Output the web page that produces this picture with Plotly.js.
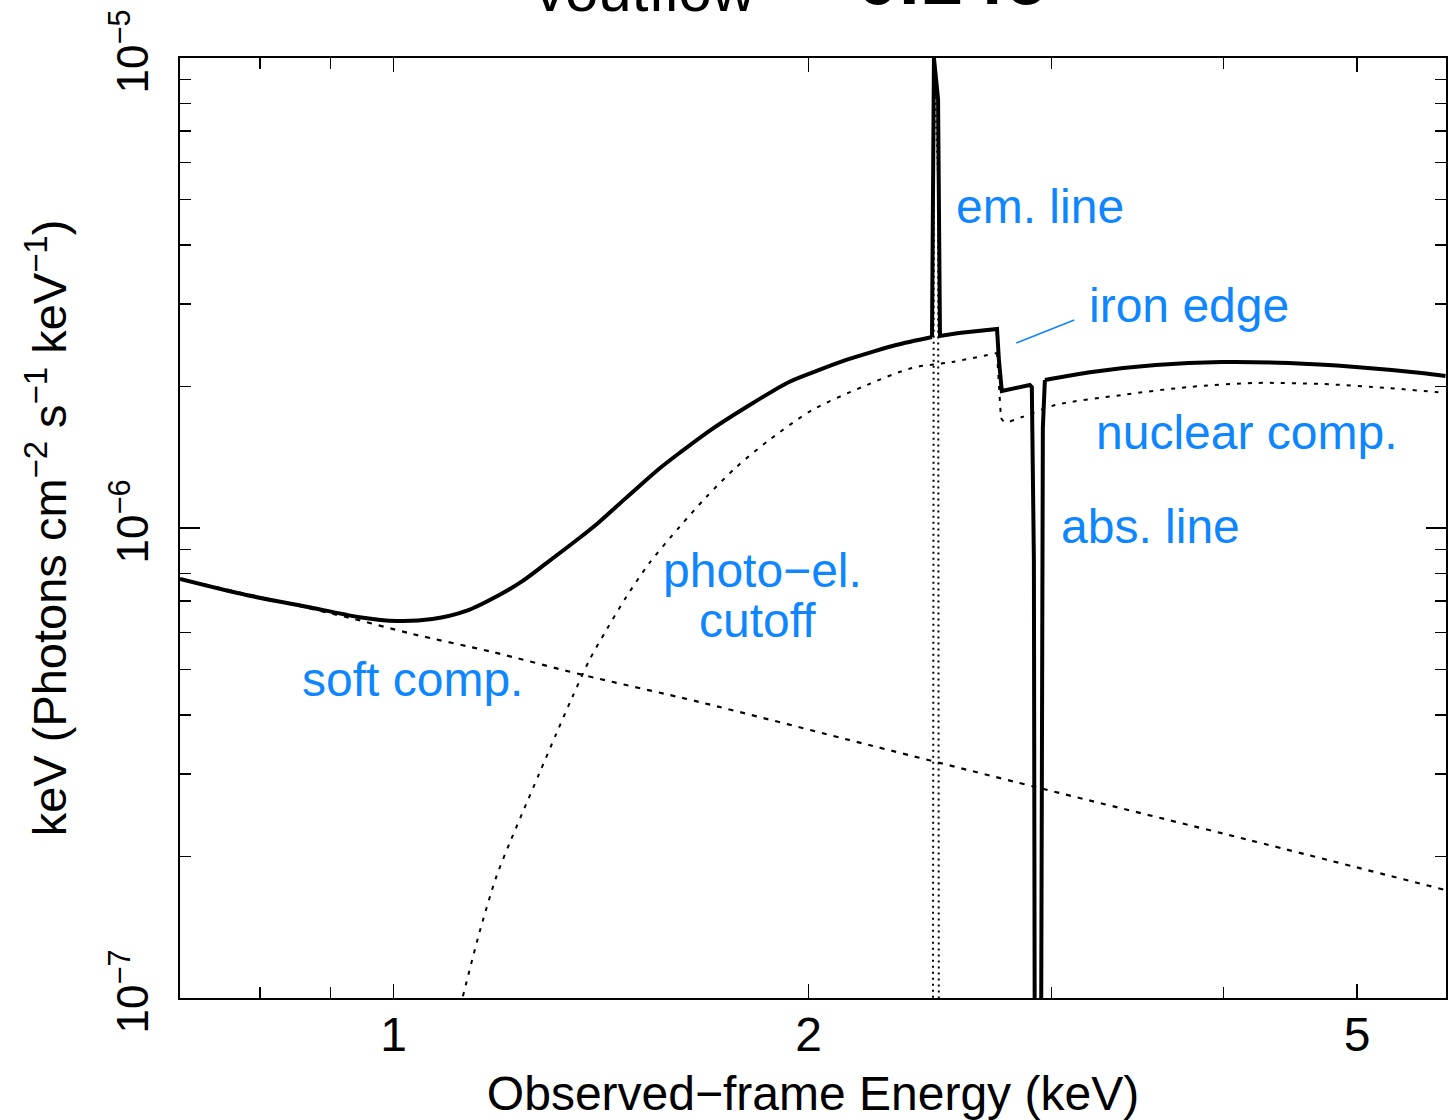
<!DOCTYPE html>
<html>
<head>
<meta charset="utf-8">
<script src="https://cdn.plot.ly/plotly-3.0.1.min.js"></script>
<style>html,body{margin:0;padding:0;background:#fff;}#plot{width:1449px;height:1120px;}</style>
</head>
<body>
<div id="plot"></div>
<script>
// Total model (solid)
const totalE = [0.700, 0.782, 0.874, 0.945, 1.005, 1.067, 1.129, 1.193, 1.240, 1.291, 1.364, 1.410, 1.458, 1.508, 1.564, 1.612, 1.694, 1.803, 1.936, 2.036, 2.130, 2.224, 2.315, 2.458, 2.466, 2.483, 2.491, 2.571, 2.740, 2.749, 2.762, 2.894, 2.904, 2.914, 2.919, 2.948, 2.958, 2.968, 3.210, 3.572, 3.988, 4.460, 4.987, 5.568, 5.795];
const totalF = [7.79e-7, 7.20e-7, 6.76e-7, 6.46e-7, 6.34e-7, 6.40e-7, 6.66e-7, 7.20e-7, 7.71e-7, 8.42e-7, 9.52e-7, 1.030e-6, 1.125e-6, 1.229e-6, 1.348e-6, 1.444e-6, 1.608e-6, 1.809e-6, 2.045e-6, 2.169e-6, 2.278e-6, 2.369e-6, 2.451e-6, 2.549e-6, 1.0e-5, 8.18e-6, 2.562e-6, 2.600e-6, 2.651e-6, 2.266e-6, 1.956e-6, 2.015e-6, 1.995e-6, 8.55e-7, 5e-8, 5e-8, 1.633e-6, 2.065e-6, 2.148e-6, 2.222e-6, 2.255e-6, 2.244e-6, 2.201e-6, 2.137e-6, 2.106e-6];

// Nuclear component (photo-electric cutoff + iron edge)
const nuclearE = [1.113, 1.122, 1.154, 1.187, 1.214, 1.240, 1.276, 1.313, 1.348, 1.387, 1.427, 1.475, 1.533, 1.612, 1.686, 1.773, 1.873, 2.012, 2.187, 2.377, 2.542, 2.740, 2.758, 2.777, 2.856, 3.022, 3.376, 3.774, 4.221, 4.713, 5.270, 5.699, 5.795];
const nuclearF = [9.1e-8, 1.0e-7, 1.375e-7, 1.808e-7, 2.137e-7, 2.475e-7, 3.011e-7, 3.662e-7, 4.368e-7, 5.237e-7, 6.067e-7, 7.131e-7, 8.42e-7, 1.005e-6, 1.164e-6, 1.348e-6, 1.539e-6, 1.782e-6, 1.995e-6, 2.190e-6, 2.255e-6, 2.357e-6, 1.714e-6, 1.680e-6, 1.722e-6, 1.827e-6, 1.919e-6, 1.995e-6, 2.035e-6, 2.025e-6, 1.985e-6, 1.947e-6, 1.940e-6];

// Soft component
const softE = [0.700, 0.925, 1.032, 1.179, 1.371, 1.666, 2.213, 2.938, 4.172, 5.795];
const softF = [7.79e-7, 6.46e-7, 5.95e-7, 5.45e-7, 4.87e-7, 4.265e-7, 3.453e-7, 2.80e-7, 2.169e-7, 1.697e-7];

// Emission line component
const lineE = [2.461, 2.466, 2.483, 2.487];
const lineF = [3e-8, 9.7e-6, 5.6e-6, 3e-8];

// Tick labels
const xTickVals = [1, 2, 5];
const xTickText = ['1', '2', '5'];
const xMinorVals = [0.7, 0.8, 0.9, 3, 4];
const yTickVals = [1e-7, 1e-6, 1e-5];
const yTickText = ['10<sup>−7</sup>', '10<sup>−6</sup>', '10<sup>−5</sup>'];
const yMinorVals = [2e-7, 3e-7, 4e-7, 5e-7, 6e-7, 7e-7, 8e-7, 9e-7, 2e-6, 3e-6, 4e-6, 5e-6, 6e-6, 7e-6, 8e-6, 9e-6];

const FONT = '"Liberation Sans", Arial, Helvetica, sans-serif';
const BLUE = '#0d86ff';

// split a series into an energy window (smooth parts drawn as splines, sharp features straight)
function seg(E, F, lo, hi) {
  const x = [], y = [];
  for (let i = 0; i < E.length; i++) if (E[i] >= lo && E[i] <= hi) { x.push(E[i]); y.push(F[i]); }
  return {x: x, y: y};
}
function tr(s, line, shape) {
  return {x: s.x, y: s.y, type: 'scatter', mode: 'lines', line: Object.assign({shape: shape, smoothing: 0.8}, line), hoverinfo: 'skip'};
}

const softLine = {color: '#000', width: 2.2, dash: '5px,7px'};
const nucLine = {color: '#000', width: 2, dash: '4px,7px'};
const totLine = {color: '#000', width: 4};

const traces = [
  tr(seg(softE, softF, 0, 10), softLine, 'spline'),
  tr(seg(nuclearE, nuclearF, 0, 2.740), nucLine, 'spline'),
  tr(seg(nuclearE, nuclearF, 2.740, 2.758), nucLine, 'linear'),
  tr(seg(nuclearE, nuclearF, 2.758, 10), nucLine, 'spline'),
  tr(seg(lineE, lineF, 0, 10), {color: '#000', width: 2, dash: '2px,4px'}, 'linear'),
  tr(seg(totalE, totalF, 0, 2.458), totLine, 'spline'),
  tr(seg(totalE, totalF, 2.458, 2.968), totLine, 'linear'),
  tr(seg(totalE, totalF, 2.968, 10), totLine, 'spline')
];

function ann(text, x, y, xanchor, size) {
  return {text: text, x: x, y: y, xref: 'paper', yref: 'paper', xanchor: xanchor, yanchor: 'middle',
    showarrow: false, font: {family: FONT, size: size, color: BLUE}};
}

const layout = {
  width: 1449, height: 1120,
  margin: {l: 180, r: 3, t: 58, b: 122},
  paper_bgcolor: '#fff', plot_bgcolor: '#fff',
  showlegend: false,
  font: {family: FONT, color: '#000'},
  xaxis: {
    type: 'log', range: [Math.log10(0.7), Math.log10(5.8)],
    tickmode: 'array', tickvals: xTickVals, ticktext: xTickText,
    ticks: 'inside', ticklen: 14, tickwidth: 1.5, tickcolor: '#000',
    minor: {tickmode: 'array', tickvals: xMinorVals, ticks: 'inside', ticklen: 11, tickwidth: 1.5, tickcolor: '#000', showgrid: false},
    showline: true, linecolor: '#000', linewidth: 2, mirror: 'allticks',
    showgrid: false, zeroline: false,
    tickfont: {family: FONT, size: 48, color: '#000'},
    ticklabelstandoff: -7,
    title: {text: 'Observed−frame Energy (keV)', font: {family: FONT, size: 48, color: '#000'}, standoff: 20}
  },
  yaxis: {
    type: 'log', range: [-7, -5],
    tickmode: 'array', tickvals: yTickVals, ticktext: yTickText,
    ticks: 'inside', ticklen: 20, tickwidth: 1.5, tickcolor: '#000',
    minor: {tickmode: 'array', tickvals: yMinorVals, ticks: 'inside', ticklen: 11, tickwidth: 1.5, tickcolor: '#000', showgrid: false},
    showline: true, linecolor: '#000', linewidth: 2, mirror: 'allticks',
    showgrid: false, zeroline: false,
    tickangle: -90,
    tickfont: {family: FONT, size: 44, color: '#000'},
    ticklabelstandoff: 12,
    title: {text: 'keV (Photons cm<sup>−2</sup> s<sup>−1</sup> keV<sup>−1</sup>)', font: {family: FONT, size: 47, color: '#000'}, standoff: 20}
  },
  annotations: [
    {text: 'voutflow', x: 0.3678, y: 1.034, xref: 'paper', yref: 'paper', xanchor: 'center', yanchor: 'bottom', showarrow: false,
     font: {family: FONT, size: 60, color: '#000'}},
    {text: '<b>= 0.14c</b>', x: 0.481, y: 1.0383, xref: 'paper', yref: 'paper', xanchor: 'left', yanchor: 'bottom', showarrow: false,
     font: {family: FONT, size: 76, color: '#000'}},
    ann('em. line', 0.6117, 0.8415, 'left', 48),
    ann('iron edge', 0.7167, 0.7372, 'left', 48),
    ann('nuclear comp.', 0.7222, 0.6021, 'left', 48),
    ann('abs. line', 0.6946, 0.5011, 'left', 48),
    ann('photo−el.', 0.4600, 0.4553, 'center', 48),
    ann('cutoff', 0.4560, 0.4021, 'center', 48),
    ann('soft comp.', 0.0947, 0.3383, 'left', 48)
  ],
  shapes: [
    {type: 'line', xref: 'paper', yref: 'paper', x0: 0.6606, y0: 0.6968, x1: 0.7064, y1: 0.7213, line: {color: BLUE, width: 1.5}}
  ]
};

Plotly.newPlot('plot', traces, layout, {staticPlot: true, displayModeBar: false});
</script>
</body>
</html>
